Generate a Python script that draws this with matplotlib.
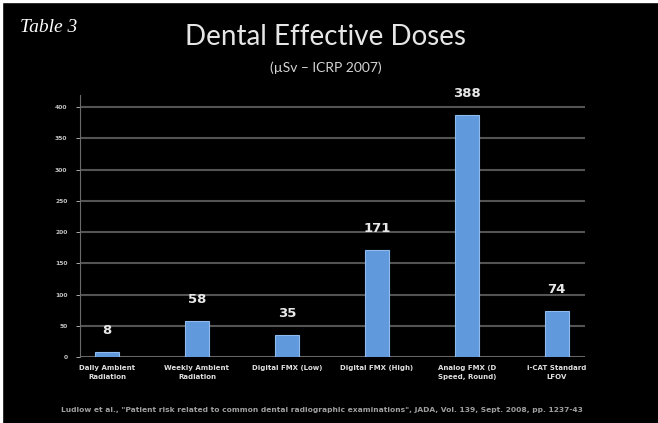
import matplotlib
matplotlib.use("Agg")
import matplotlib.pyplot as plt
from matplotlib.patches import Rectangle

# effective doses, microsievert (Ludlow 2008)
categories = [
    "Daily Ambient\nRadiation",
    "Weekly Ambient\nRadiation",
    "Digital FMX (Low)",
    "Digital FMX (High)",
    "Analog FMX (D\nSpeed, Round)",
    "i-CAT Standard\nLFOV",
]
doses = [8, 58, 35, 171, 388, 74]
yticks = [0, 50, 100, 150, 200, 250, 300, 350, 400]

bar_col = "#6199dd"
grid_col = "#545454"
label_col = "#c4c4c4"

fig = plt.figure(figsize=(6.58, 4.23), dpi=100, facecolor="black")
ax = fig.add_axes([0.1216, 0.156, 0.767, 0.619])
ax.set_facecolor("black")

x = list(range(len(doses)))
ax.set_xlim(-0.3, 5.31)
ax.set_ylim(0, 419)
ax.set_yticks(yticks)
ax.yaxis.grid(True, color=grid_col, lw=1.5)
ax.set_axisbelow(True)
ax.tick_params(axis="y", colors=label_col, labelsize=4.3, length=3, width=0.6, pad=6)
ax.set_yticklabels([str(t) for t in yticks], fontweight="bold")
ax.set_xticks(x)
ax.set_xticklabels(categories, fontsize=5, color="#e0e0e0", linespacing=1.5, fontweight="bold")
ax.tick_params(axis="x", length=0, pad=6)
for s in ["top", "right", "bottom"]:
    ax.spines[s].set_visible(False)
ax.spines["left"].set_color("#6a6a6a")
ax.spines["left"].set_linewidth(0.8)
ax.axhline(0, color="#6a6a6a", lw=1.2)

bars = ax.bar(x, doses, width=0.26, color=bar_col, edgecolor="#8fbbee", linewidth=0.8, zorder=3)
for b, v in zip(bars, doses):
    ax.text(b.get_x() + b.get_width() / 2, v + 24, str(v), ha="center", va="bottom",
            color="#e8e8e8", fontsize=9.5, fontweight="bold", family="DejaVu Sans",
            clip_on=False)

# title block
fig.text(0.495, 0.912, "Dental Effective Doses", ha="center", va="center",
         color="#e6e6e6", fontsize=20, family="Lato")
fig.text(0.495, 0.84, "(\u00b5Sv \u2013 ICRP 2007)", ha="center", va="center",
         color="#d4d4d4", fontsize=10, family="Lato")
fig.text(0.03, 0.935, "Table 3", ha="left", va="center", color="white",
         fontsize=14, style="italic", family="Liberation Serif")

# source note
fig.text(0.49, 0.03, "Ludlow et al., \"Patient risk related to common dental radiographic examinations\", "
         "JADA, Vol. 139, Sept. 2008, pp. 1237-43",
         ha="center", va="center", color="#a0a0a0", fontsize=5.4, fontweight="bold")

# thin white border at the top and left
fig.patches.append(Rectangle((0, 0.995), 1, 0.005, transform=fig.transFigure, color="white", zorder=10))
fig.patches.append(Rectangle((0, 0), 0.003, 1, transform=fig.transFigure, color="white", zorder=10))

fig.savefig("out.png", dpi=100, facecolor="black")
